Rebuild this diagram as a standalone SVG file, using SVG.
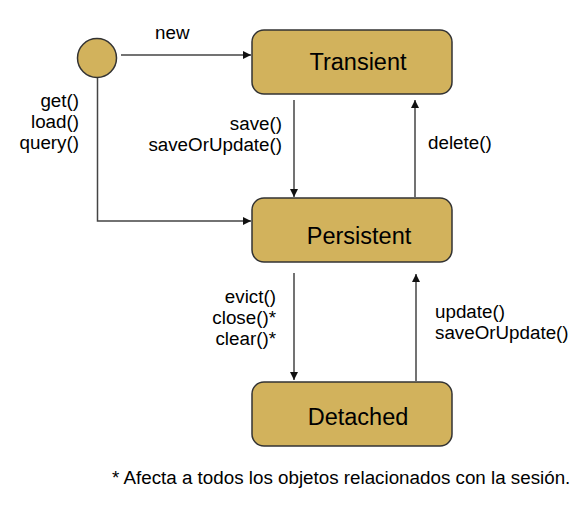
<svg xmlns="http://www.w3.org/2000/svg" width="586" height="506" viewBox="0 0 586 506">
<defs>
<marker id="arr" viewBox="0 0 10 10" refX="10" refY="5" markerWidth="8" markerHeight="8" markerUnits="userSpaceOnUse" orient="auto">
<path d="M0,0 L10,5 L0,10 z" fill="#111"/>
</marker>
<style>
.node{fill:#D2B25C;stroke:#333;stroke-width:1.5}
.nl{font-family:"Liberation Sans",Arial,sans-serif;font-size:23.5px;fill:#000;text-anchor:middle}
.lb{font-family:"Liberation Sans",Arial,sans-serif;font-size:18.8px;fill:#000}
.c{fill:none;stroke:#444;stroke-width:1.5;marker-end:url(#arr)}
</style>
</defs>
<rect width="586" height="506" fill="#fff"/>
<g id="connectors">
<path class="c" d="M121,55 L251,55"/>
<path class="c" d="M97.5,78 L97.5,221 L251,221"/>
<path class="c" d="M294,100 L294,197"/>
<path class="c" d="M415,197 L415,100"/>
<path class="c" d="M294,273 L294,380"/>
<path class="c" d="M416,381 L416,274"/>
<text class="lb" x="155" y="39">new</text>
<text class="lb" text-anchor="end"><tspan x="79" y="107">get()</tspan><tspan x="79" y="128">load()</tspan><tspan x="79" y="149">query()</tspan></text>
<text class="lb" text-anchor="end"><tspan x="282" y="130">save()</tspan><tspan x="282" y="151">saveOrUpdate()</tspan></text>
<text class="lb" x="428" y="149">delete()</text>
<text class="lb" text-anchor="end"><tspan x="276" y="303">evict()</tspan><tspan x="276" y="324">close()*</tspan><tspan x="276" y="345">clear()*</tspan></text>
<text class="lb"><tspan x="435" y="318">update()</tspan><tspan x="435" y="339">saveOrUpdate()</tspan></text>
</g>
<g id="start"><circle cx="97" cy="58" r="19.5" class="node"/></g>
<g id="transient"><rect class="node" x="252" y="30" width="200" height="64" rx="12"/><text class="nl" x="358" y="70">Transient</text></g>
<g id="persistent"><rect class="node" x="252" y="198" width="200" height="64" rx="12"/><text class="nl" x="359" y="244">Persistent</text></g>
<g id="detached"><rect class="node" x="252" y="382" width="200" height="64" rx="12"/><text class="nl" x="358" y="425">Detached</text></g>
<text class="lb" x="112" y="484">* Afecta a todos los objetos relacionados con la sesión.</text>
</svg>
